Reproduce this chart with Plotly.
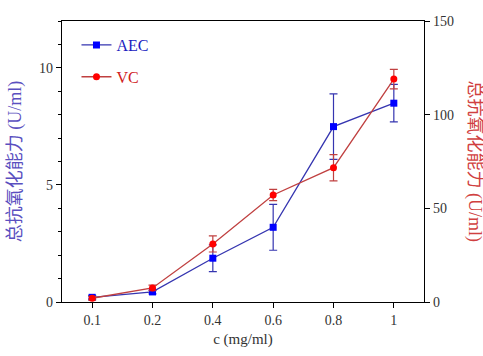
import plotly.graph_objects as go

conc = ["0.1", "0.2", "0.4", "0.6", "0.8", "1"]
aec = [0.2, 0.43, 1.87, 3.19, 7.49, 8.49]
aec_err = [0.08, 0.08, 0.57, 0.98, 1.4, 0.8]
vc = [2.0, 7.5, 31.0, 57.1, 71.7, 119.0]
vc_err = [1.0, 1.5, 4.3, 3.0, 7.0, 5.2]

font_family = "'Liberation Serif', 'Times New Roman', 'Noto Sans CJK SC', serif"

fig = go.Figure()
fig.add_trace(go.Scatter(
    x=conc, y=aec, name="<span style='color:#2020c0'>AEC</span>",
    legendgroup="a",
    mode="lines+markers",
    line=dict(color="#3535b0", width=1.3),
    marker=dict(symbol="square", size=7, color="#0000ff"),
    error_y=dict(type="data", array=aec_err, color="#3535b0", thickness=1.2, width=4),
    yaxis="y",
))
fig.add_trace(go.Scatter(
    x=conc, y=vc, name="<span style='color:#d02020'>VC</span>",
    legendgroup="b",
    mode="lines+markers",
    line=dict(color="#c04040", width=1.3),
    marker=dict(symbol="circle", size=7, color="#ff0000"),
    error_y=dict(type="data", array=vc_err, color="#c04040", thickness=1.2, width=4),
    yaxis="y2",
))

fig.update_layout(
    width=483, height=356,
    margin=dict(l=62, r=59, t=21, b=54),
    plot_bgcolor="white", paper_bgcolor="white",
    font=dict(family=font_family, size=14, color="#333333"),
    showlegend=True,
    legend=dict(x=0.04, y=0.975, xanchor="left", yanchor="top",
                bgcolor="rgba(0,0,0,0)", font=dict(size=16),
                itemwidth=30, tracegroupgap=8),
    xaxis=dict(
        type="category", range=[-0.5, 5.5],
        showline=True, linecolor="black", linewidth=1.2, mirror=True,
        ticks="outside", ticklen=5, tickcolor="black",
        showgrid=False, zeroline=False,
        title=dict(text="c (mg/ml)", font=dict(size=15, color="#333333"), standoff=6),
    ),
    yaxis=dict(
        range=[0, 12], dtick=5, tick0=0,
        showline=True, linecolor="black", linewidth=1.2,
        ticks="outside", ticklen=5, tickcolor="black",
        minor=dict(dtick=1, ticks="outside", ticklen=3, tickcolor="black"),
        showgrid=False, zeroline=False,
        title=dict(text="总抗氧化能力 (U/ml)", font=dict(size=18, color="#5a4fc0"), standoff=12),
    ),
    yaxis2=dict(
        range=[0, 150], dtick=50, tick0=0,
        overlaying="y", side="right",
        showline=True, linecolor="black", linewidth=1.2,
        ticks="outside", ticklen=5, tickcolor="black",
        showgrid=False, zeroline=False,
    ),
    annotations=[dict(
        text="总抗氧化能力 (U/ml)", textangle=90,
        xref="paper", yref="paper", x=1.0, y=0.5,
        xanchor="center", yanchor="middle", xshift=50,
        showarrow=False, font=dict(size=18, color="#d04040", family=font_family),
    )],
)

fig.write_html("out.html")
